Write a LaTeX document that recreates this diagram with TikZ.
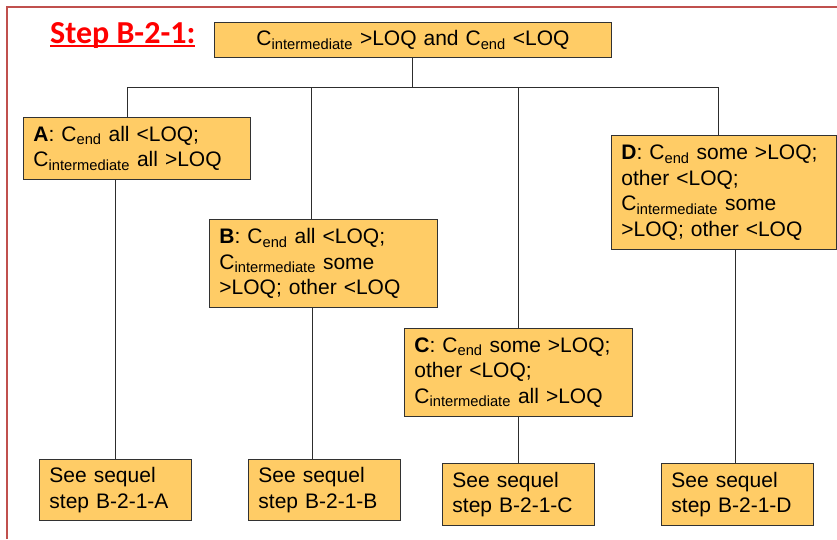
\documentclass[tikz,border=0pt]{standalone}
\usepackage{fontspec}
\setmainfont{Liberation Sans}
\newfontfamily\arialf{Liberation Sans}
\newfontfamily\calibf{Carlito}
\definecolor{boxfill}{RGB}{255,204,102}
\definecolor{boxline}{RGB}{50,50,50}
\definecolor{frame}{RGB}{192,80,77}
\definecolor{conn}{RGB}{45,45,45}
\newcommand\thickul[1]{\setbox0\hbox{#1}\rlap{\rule[-4pt]{\wd0}{2.2pt}}\box0}
\newcommand\sbs[1]{\textsubscript{#1}}
\tikzset{
  box/.style={draw=boxline, fill=boxfill, line width=0.9pt, inner xsep=10pt, inner ysep=0pt,
    align=left, anchor=north west, font=\arialf\fontsize{21}{25.5}\selectfont},
  conn/.style={draw=conn, line width=0.8pt}
}
\begin{document}
\begin{tikzpicture}[x=1pt,y=-1pt]
\useasboundingbox (0,0) rectangle (837,539);
% frame
\draw[frame, line width=2pt] (7,539) -- (7,7) -- (837,7);
% title
\node[anchor=base west, inner sep=0pt, text=red, font=\calibf\bfseries\fontsize{32}{37}\selectfont] (title) at (50,43) {\thickul{Step B-2-1:}};
% top box
\node[box, text width=377pt, minimum height=35pt, align=center] (top) at (214,22) {C\sbs{intermediate} >LOQ and C\sbs{end} <LOQ};
% level 2
\node[box, text width=207pt, minimum height=62pt] (A) at (23,117) {\textbf{A}: C\sbs{end} all <LOQ;\\C\sbs{intermediate} all >LOQ};
\node[box, text width=208pt, minimum height=88pt] (B) at (209,219) {\textbf{B}: C\sbs{end} all <LOQ;\\C\sbs{intermediate} some\\>LOQ; other <LOQ};
\node[box, text width=208pt, minimum height=88pt] (C) at (404,328) {\textbf{C}: C\sbs{end} some >LOQ;\\other <LOQ;\\C\sbs{intermediate} all >LOQ};
\node[box, text width=205pt, minimum height=114pt] (D) at (611,135) {\textbf{D}: C\sbs{end} some >LOQ;\\other <LOQ;\\C\sbs{intermediate} some\\>LOQ; other <LOQ};
% level 3
\node[box, text width=132pt, minimum height=61pt] (A2) at (39,459) {See sequel\\step B-2-1-A};
\node[box, text width=132pt, minimum height=61pt] (B2) at (248,459) {See sequel\\step B-2-1-B};
\node[box, text width=132pt, minimum height=62pt] (C2) at (442,463) {See sequel\\step B-2-1-C};
\node[box, text width=132pt, minimum height=62pt] (D2) at (661,463) {See sequel\\step B-2-1-D};
% connectors
\coordinate (bus) at (412,87);
\coordinate (ja) at (127,87);
\coordinate (jb) at (311,87);
\coordinate (jc) at (518,87);
\coordinate (jd) at (718,87);
\draw[conn] (top.south -| bus) -- (bus);
\draw[conn] (ja) -- (jd);
\draw[conn] (ja) -- (ja |- A.north);
\draw[conn] (jb) -- (jb |- B.north);
\draw[conn] (jc) -- (jc |- C.north);
\draw[conn] (jd) -- (jd |- D.north);
\coordinate (xa) at (115,0);
\coordinate (xb) at (312,0);
\coordinate (xc) at (518,0);
\coordinate (xd) at (735,0);
\draw[conn] (xa |- A.south) -- (xa |- A2.north);
\draw[conn] (xb |- B.south) -- (xb |- B2.north);
\draw[conn] (xc |- C.south) -- (xc |- C2.north);
\draw[conn] (xd |- D.south) -- (xd |- D2.north);
\end{tikzpicture}
\end{document}
